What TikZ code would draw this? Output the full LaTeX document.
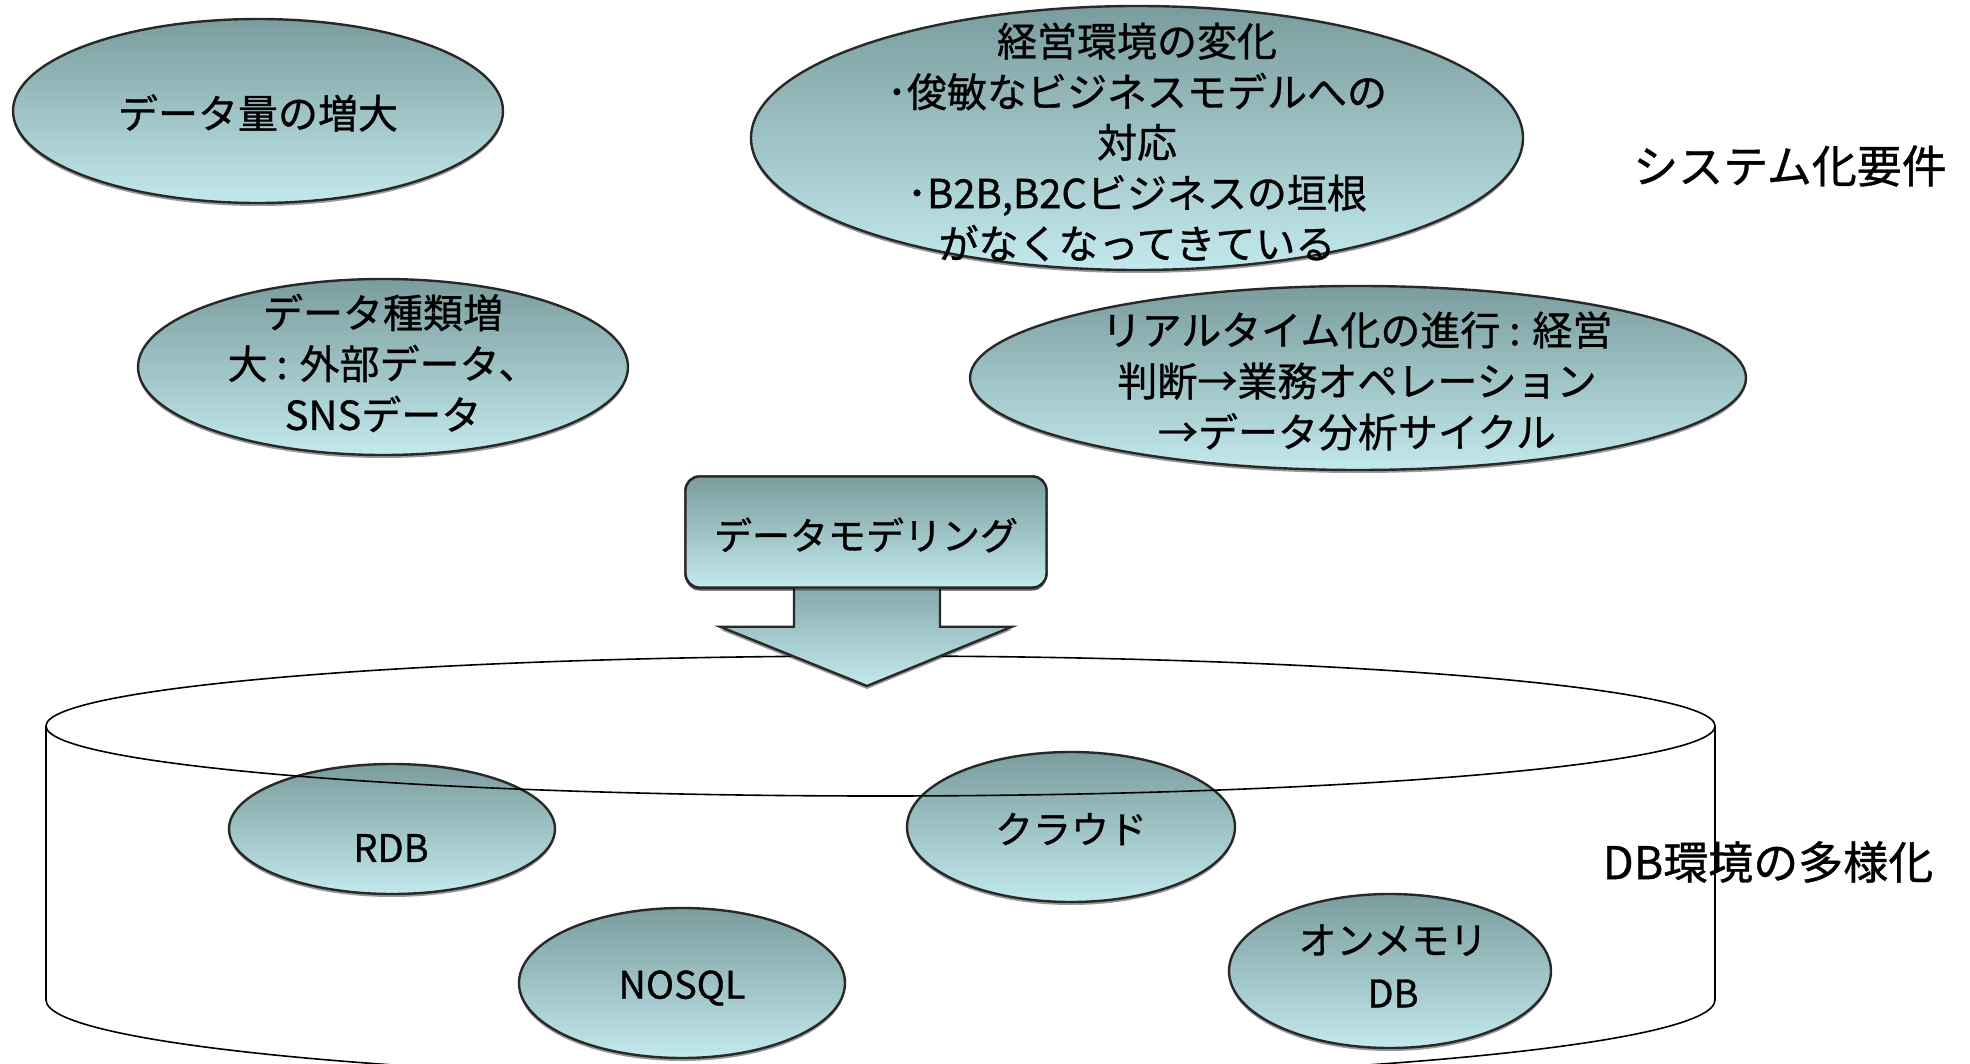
\documentclass[tikz,border=0pt]{standalone}
\usepackage{fontspec}
\newfontfamily\jp[FakeBold=0.8]{Noto Sans CJK JP}
\usetikzlibrary{shapes.geometric,shadows,calc}
\definecolor{fillTop}{RGB}{122,156,157}
\definecolor{fillBot}{RGB}{194,233,237}
\definecolor{edge}{RGB}{40,40,40}
\tikzset{
  blob/.style={ellipse, draw=edge, line width=2.4pt, top color=fillTop, bottom color=fillBot,
    drop shadow={shadow xshift=0pt, shadow yshift=-3pt, opacity=0.4, fill=black}},
  boxshape/.style={rectangle, rounded corners=14pt, draw=edge, line width=2.4pt, top color=fillTop, bottom color=fillBot,
    drop shadow={shadow xshift=0pt, shadow yshift=-3pt, opacity=0.4, fill=black}},
  txt/.style={font=\jp\fontsize{40}{51}\selectfont, align=center, text=black, inner sep=0pt},
  smalltxt/.style={font=\jp\fontsize{38}{53}\selectfont, align=center, text=black, inner sep=0pt},
  sidetxt/.style={font=\jp\fontsize{45}{52}\selectfont, align=center, text=black, inner sep=0pt},
  cyl/.style={draw=black, line width=1.6pt},
}
\begin{document}
\begin{tikzpicture}[x=1pt,y=-1pt]
\useasboundingbox (0,0) rectangle (1970,1064);
% small DB ellipses (behind cylinder lines)
\node[blob, minimum width=326pt, minimum height=130pt] (erdb) at (392,829) {};
\node[blob, minimum width=328pt, minimum height=150pt] (ecloud) at (1071,827) {};
\node[blob, minimum width=326pt, minimum height=150pt] (enosql) at (682,983) {};
\node[blob, minimum width=322pt, minimum height=154pt] (emem) at (1390,971) {};
\node[smalltxt] (trdb) at (391,848) {RDB};
\node[smalltxt] (tcloud) at (1071,829) {クラウド};
\node[smalltxt] (tnosql) at (682,988) {NOSQL};
\node[smalltxt] (tmem) at (1393,966) {オンメモリ\\DB};
% cylinder
\draw[cyl] (880.5,726) ellipse [x radius=834.5pt, y radius=70pt];
\draw[cyl] (46,726) -- (46,1000) arc[start angle=180, end angle=360, x radius=834.5pt, y radius=80pt] -- (1715,726);
% box and arrow
\node[boxshape, minimum width=361pt, minimum height=111pt] (box) at (866,532) {};
\coordinate (tip) at (867,686);
\shade[top color=fillTop!85!fillBot, bottom color=fillBot, draw=edge, line width=2.4pt,
  drop shadow={shadow xshift=0pt, shadow yshift=-3pt, opacity=0.4, fill=black}]
  ($(box.south)+(-72,-4)$) -- ($(box.south)+(-72,38)$) -- ($(box.south)+(-146,38)$) -- (tip)
  -- ($(box.south)+(146,38)$) -- ($(box.south)+(74,38)$) -- ($(box.south)+(74,-4)$) -- cycle;
\node[boxshape, minimum width=361pt, minimum height=111pt] (box2) at (box) {};
\node[txt, font=\jp\fontsize{38}{46}\selectfont] (tbox) at (866,535) {データモデリング};
% top ellipses
\node[blob, minimum width=490pt, minimum height=184pt] (ea) at (258,111) {};
\node[txt] (ta) at (258,113) {データ量の増大};
\node[blob, minimum width=772pt, minimum height=264pt] (eb) at (1137,138) {};
\node[txt, font=\jp\fontsize{40}{50.6}\selectfont] (tb) at (1137,142) {経営環境の変化\\･俊敏なビジネスモデルへの\\対応\\･B2B,B2Cビジネスの垣根\\がなくなってきている};
\node[blob, minimum width=490pt, minimum height=176pt] (ec) at (383,367) {};
\node[txt] (tc) at (383,363) {データ種類増\\大 : 外部データ、\\SNSデータ};
\node[blob, minimum width=776pt, minimum height=184pt] (ed) at (1358,378) {};
\node[txt] (td) at (1357,381) {リアルタイム化の進行 : 経営\\判断→業務オペレーション\\→データ分析サイクル};
% side labels
\node[sidetxt] (lsys) at (1790,166) {システム化要件};
\node[sidetxt] (ldb) at (1768,862) {DB環境の多様化};
\end{tikzpicture}
\end{document}
